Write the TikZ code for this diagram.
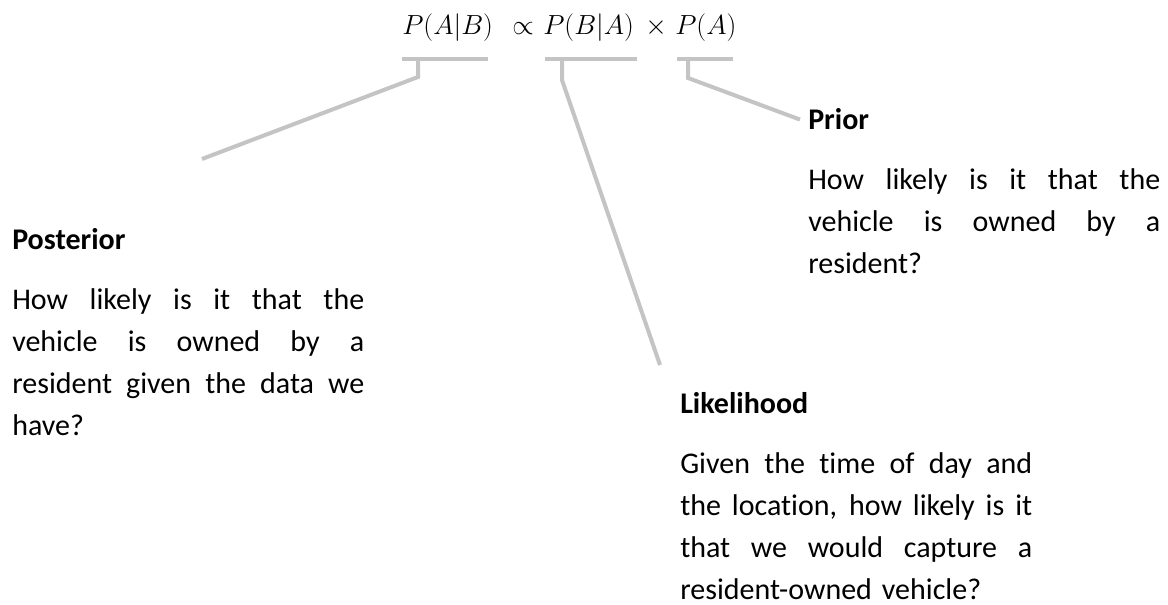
\documentclass[tikz,border=0pt]{standalone}
\usepackage{fontspec}
\setmainfont{Carlito}[Ligatures=NoCommon]
\definecolor{leadgray}{RGB}{196,196,196}
\newlength\colw
\setlength\colw{264pt}
\newcommand{\jline}[1]{\leavevmode\hbox to \colw{\spaceskip=0.226em plus 1fil\relax #1}}

\begin{document}
\begin{tikzpicture}[x=0.75pt,y=-0.75pt,
  term/.style={inner sep=0pt,anchor=base west,font=\fontsize{22.5}{27}\selectfont},
  head/.style={inner sep=0pt,anchor=base west,font=\fontsize{22.5}{31.5}\selectfont\bfseries},
  body/.style={inner sep=0pt,anchor=base west,text width=\colw,align=left,font=\fontsize{22.5}{31.5}\selectfont},
  bar/.style={fill=leadgray,inner sep=0pt,minimum height=3pt},
  lead/.style={draw=leadgray,line width=3pt}]
\useasboundingbox (0,0) rectangle (1168,605);
% the formula
\node[term] (postterm) at (402,35) {$P(A|B)$};
\node[term,anchor=base] (propsym) at (523,35) {$\propto$};
\node[term] (liketerm) at (543,35) {$P(B|A)$};
\node[term,anchor=base] (timessym) at (656,35) {$\times$};
\node[term] (priorterm) at (675,35) {$P(A)$};
% bars under the terms
\node[bar,minimum width=64.5pt] (postbar) at (445,59) {};
\node[bar,minimum width=69pt] (likebar) at (591,59) {};
\node[bar,minimum width=42pt] (priorbar) at (705,59) {};
% the three texts
\node[head] (posthead) at (12,250) {Posterior};
\node[body] (postbody) at (12,310) {\jline{How likely is it that the}\\
  \jline{vehicle is owned by a}\\
  \jline{resident given the data we}\\
  have?};
\node[head] (priorhead) at (808,130) {Prior};
\node[body] (priorbody) at (808,190) {\jline{How likely is it that the}\\
  \jline{vehicle is owned by a}\\
  resident?};
\node[head] (likehead) at (680,414) {Likelihood};
\node[body] (likebody) at (680,474) {\jline{Given the time of day and}\\
  \jline{the location, how likely is it}\\
  \jline{that we would capture a}\\
  resident-owned vehicle?};
% leader lines
\coordinate (postknee) at (418,77);
\coordinate (postend) at (202,159);
\coordinate (likeknee) at (562,80);
\coordinate (likeend) at (660,365);
\coordinate (priorknee) at (688,78);
\draw[lead] (postbar.center -| postknee) -- (postknee) -- (postend);
\draw[lead] (likebar.center -| likeknee) -- (likeknee) -- (likeend);
\draw[lead] (priorbar.center -| priorknee) -- (priorknee) -- ([xshift=-6pt]priorhead.west);
\end{tikzpicture}
\end{document}
